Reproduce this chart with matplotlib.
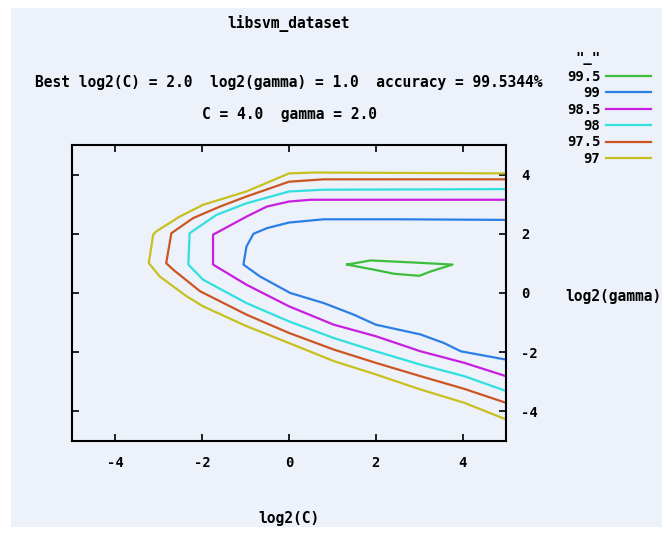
import matplotlib
matplotlib.use("Agg")
import matplotlib.pyplot as plt
from matplotlib.patches import Rectangle

# contour lines: (log2(C), log2(gamma))
levels = ["99.5", "99", "98.5", "98", "97.5", "97"]
colors = ["#3cbf3c", "#2a7fe6", "#c81ee0", "#30e0e0", "#cc5522", "#c8c020"]

c995_x = [1.34, 1.88, 2.88, 3.77, 3.27, 3.00, 2.42, 1.95, 1.34]
c995_y = [0.96, 1.10, 1.03, 0.96, 0.73, 0.58, 0.65, 0.79, 0.96]

c99_x = [5.0, 2.5, 0.8, 0.0, -0.51, -0.82, -0.98, -1.05, -0.67, 0.03, 0.8, 1.49,
         2.0, 3.03, 3.57, 3.96, 5.0]
c99_y = [2.47, 2.49, 2.49, 2.38, 2.19, 2.0, 1.57, 0.96, 0.56, 0.0, -0.34, -0.73,
         -1.07, -1.4, -1.69, -1.97, -2.25]

c985_x = [5.0, 0.5, 0.0, -0.51, -0.98, -1.75, -1.75, -0.98, 0.0, 1.03, 2.0, 3.03, 4.04, 5.0]
c985_y = [3.15, 3.15, 3.09, 2.92, 2.58, 1.97, 0.96, 0.28, -0.45, -1.07, -1.46, -1.97, -2.36, -2.81]

c98_x = [5.0, 0.8, 0.0, -0.98, -1.67, -2.29, -2.32, -1.98, -0.98, 0.0, 1.03, 2.0, 3.03, 4.04, 5.0]
c98_y = [3.51, 3.49, 3.43, 3.03, 2.64, 2.02, 0.96, 0.45, -0.34, -0.96, -1.52, -1.97, -2.42, -2.81, -3.31]

c975_x = [5.0, 0.8, 0.0, -0.98, -1.59, -2.21, -2.71, -2.83, -2.67, -2.05, -0.98, 0.0,
          1.03, 2.0, 3.03, 4.04, 5.0]
c975_y = [3.84, 3.84, 3.76, 3.26, 2.92, 2.53, 2.02, 1.01, 0.79, 0.06, -0.73, -1.35,
          -1.91, -2.36, -2.81, -3.24, -3.71]

c97_x = [5.0, 0.6, 0.0, -0.98, -1.98, -2.52, -3.06, -3.13, -3.23, -2.98, -2.36, -1.98,
         -0.98, 0.0, 1.03, 2.0, 3.03, 4.04, 5.0]
c97_y = [4.04, 4.07, 4.04, 3.43, 2.98, 2.58, 2.08, 1.97, 1.01, 0.56, -0.11, -0.45,
         -1.12, -1.69, -2.3, -2.75, -3.26, -3.71, -4.27]

curves_x = [c995_x, c99_x, c985_x, c98_x, c975_x, c97_x]
curves_y = [c995_y, c99_y, c985_y, c98_y, c975_y, c97_y]

ticks = [-4, -2, 0, 2, 4]

W, H = 662, 533
bg = "#edf1f9"
font = {"family": "DejaVu Sans Mono", "weight": "bold", "size": 10.5}

fig = plt.figure(figsize=(W / 100, H / 100), dpi=100)
fig.patch.set_facecolor("white")
fig.patches.append(Rectangle((11 / W, 6 / H), 1 - 11 / W, 1 - 14 / H,
                             transform=fig.transFigure, facecolor=bg,
                             edgecolor="none", zorder=-10))

ax = fig.add_axes([72 / W, 92 / H, 434 / W, 296 / H])
ax.set_facecolor(bg)

for xs, ys, lab, col in zip(curves_x, curves_y, levels, colors):
    ax.plot(xs, ys, color=col, lw=1.6, label=lab)

ax.set_xlim(-5, 5)
ax.set_ylim(-5, 5)
ax.set_xticks(ticks)
ax.set_yticks(ticks)
ax.set_xticklabels([str(t) for t in ticks])
ax.set_yticklabels([str(t) for t in ticks])
ax.tick_params(direction="in", length=5, width=1.2, left=True, right=True,
               top=True, bottom=True, labelleft=False, labelright=True, pad=11)
for lab in ax.get_xticklabels() + ax.get_yticklabels():
    lab.set_fontfamily(font["family"])
    lab.set_fontweight("bold")
    lab.set_fontsize(10)
for sp in ax.spines.values():
    sp.set_linewidth(1.5)

cx = (72 + 217) / W
fig.text(cx, 1 - 24 / H, "libsvm_dataset", ha="center", va="center", **font)
fig.text(cx, 1 - 82 / H, "Best log2(C) = 2.0  log2(gamma) = 1.0  accuracy = 99.5344%",
         ha="center", va="center", **font)
fig.text(cx, 1 - 115 / H, "C = 4.0  gamma = 2.0", ha="center", va="center", **font)
fig.text(cx, 1 - 518 / H, "log2(C)", ha="center", va="center", **font)
fig.text(565 / W, 1 - 296 / H, "log2(gamma)", ha="left", va="center", **font)

# key title sits over the label column, as gnuplot does it
fig.text(588 / W, 1 - 58 / H, '"_"', ha="center", va="center",
         family=font["family"], weight="bold", size=10)

leg = ax.legend(loc="upper left", bbox_to_anchor=(567 / W, 1 - 70 / H),
                bbox_transform=fig.transFigure, frameon=False, markerfirst=False,
                prop={"family": font["family"], "weight": "bold", "size": 10},
                handlelength=3.2, handletextpad=0.4, labelspacing=0.17,
                borderpad=0, borderaxespad=0)

fig.savefig("out.png", dpi=100, facecolor=fig.get_facecolor())
